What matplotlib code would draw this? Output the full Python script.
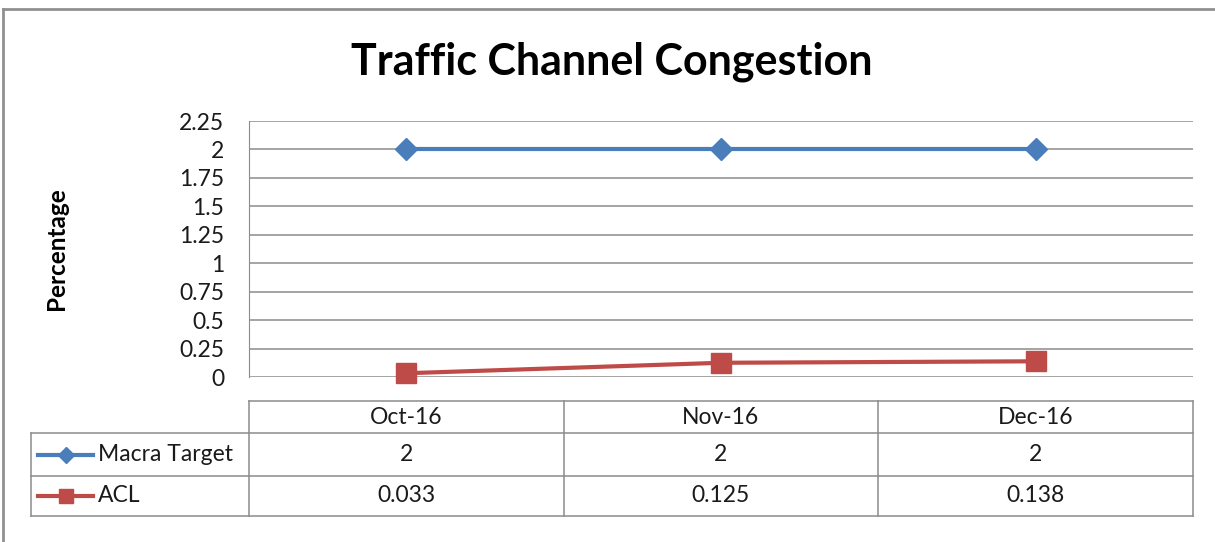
import matplotlib
matplotlib.use('agg')
import matplotlib.pyplot as plt
from matplotlib.lines import Line2D

plt.rcParams['font.family'] = ['Lato', 'DejaVu Sans']

months = ['Oct-16', 'Nov-16', 'Dec-16']
target = [2, 2, 2]
acl = [0.033, 0.125, 0.138]
target_lbl = ['2', '2', '2']
acl_lbl = ['0.033', '0.125', '0.138']
yticks = [0, 0.25, 0.5, 0.75, 1, 1.25, 1.5, 1.75, 2, 2.25]

blue = '#4A7EBB'
red = '#BE4B48'
grid = '#8C8C8C'
txt = '#1a1a1a'
fs = 16.5

W, H = 1215, 542
fig = plt.figure(figsize=(W / 100, H / 100), dpi=100)


def px_rect(x0, y0, x1, y1):
    return [x0 / W, 1 - y1 / H, (x1 - x0) / W, (y1 - y0) / H]


# chart border
fig.add_artist(Line2D([3 / W, 3 / W], [0, 1 - 9 / H], color='#909090', lw=2))
fig.add_artist(Line2D([3 / W, 1], [1 - 9 / H, 1 - 9 / H], color='#909090', lw=2))

ax = fig.add_axes(px_rect(249, 121, 1193, 377))
x = list(range(len(months)))
ax.plot(x, target, color=blue, lw=3, marker='D', ms=11.5, zorder=3, clip_on=False)
ax.plot(x, acl, color=red, lw=3, marker='s', ms=14, zorder=3, clip_on=False)
ax.set_xlim(-0.5, len(months) - 0.5)
ax.set_ylim(0, 2.25)
ax.set_yticks(yticks)
ax.set_yticklabels([f'{t:g}' for t in yticks], fontsize=fs, color=txt)
ax.set_xticks([])
for t in yticks:
    ax.axhline(t, color=grid, lw=1.1, zorder=1)
for s in ['top', 'right', 'bottom']:
    ax.spines[s].set_visible(False)
ax.spines['left'].set_color(grid)
ax.tick_params(axis='y', length=0, pad=18)
fig.text(56 / W, 1 - 249 / H, 'Percentage', rotation=90, ha='center', va='center',
         fontsize=17.5, fontweight='bold')
fig.text(612 / W, 1 - 62 / H, 'Traffic Channel Congestion', ha='center', va='center',
         fontsize=31, fontweight='bold')

# data table below the plot
lab_w = 218 / (944 / 3)
tab = fig.add_axes(px_rect(31, 401, 1193, 516))
tab.set_xlim(-0.5 - lab_w, len(months) - 0.5)
tab.set_ylim(115, 0)
tab.axis('off')
rows = [0, 32, 75, 115]
left = -0.5 - lab_w
kw = dict(color=grid, lw=1.1, clip_on=False)
tab.plot([-0.5, len(months) - 0.5], [0, 0], **kw)
for r in rows[1:]:
    tab.plot([left, len(months) - 0.5], [r, r], **kw)
tab.plot([left, left], [rows[1], rows[3]], **kw)
for i in range(len(months) + 1):
    tab.plot([i - 0.5, i - 0.5], [0, rows[3]], **kw)

for i, m in enumerate(months):
    tab.text(i, (rows[0] + rows[1]) / 2, m, ha='center', va='center', fontsize=fs, color=txt)
    tab.text(i, (rows[1] + rows[2]) / 2, target_lbl[i], ha='center', va='center', fontsize=fs, color=txt)
    tab.text(i, (rows[2] + rows[3]) / 2, acl_lbl[i], ha='center', va='center', fontsize=fs, color=txt)

u = 944 / 3
series = [('Macra Target', blue, 'D', 8, rows[1], rows[2]), ('ACL', red, 's', 9.5, rows[2], rows[3])]
for name, c, mk, ms, r0, r1 in series:
    yc = (r0 + r1) / 2
    x0 = left + 7 / u
    x1 = left + 62 / u
    tab.plot([x0, x1], [yc, yc], color=c, lw=3, clip_on=False)
    tab.plot([(x0 + x1) / 2], [yc], color=c, marker=mk, ms=ms, clip_on=False)
    tab.text(left + 67 / u, yc, name, ha='left', va='center', fontsize=fs, color=txt)

fig.savefig('out.png', dpi=100)
